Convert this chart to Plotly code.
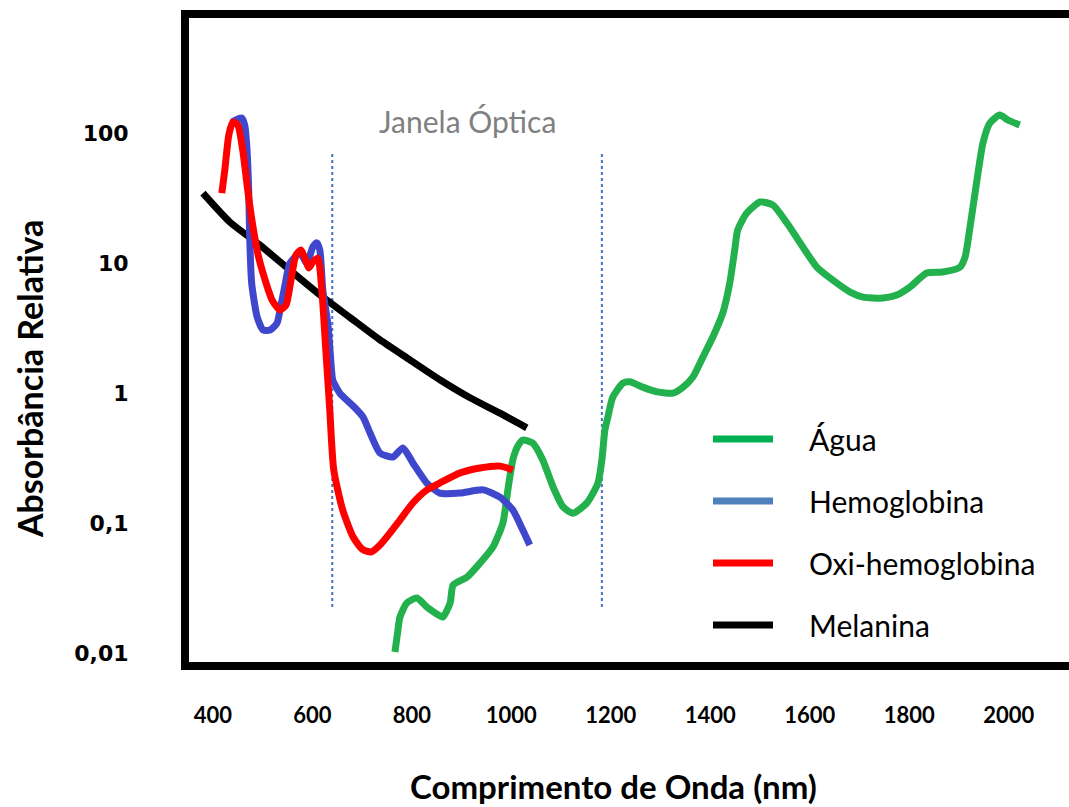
import plotly.graph_objects as go

# ---------------- data ----------------
series_names = ["Água", "Hemoglobina", "Oxi-hemoglobina", "Melanina"]

agua_nm = [766, 772, 776, 790, 810, 830, 850, 862, 877, 883, 911, 937, 963, 983, 993, 1003,
           1013, 1023, 1043, 1063, 1084, 1104, 1124, 1152, 1174, 1182, 1188, 1194, 1204, 1224,
           1238, 1264, 1293, 1325, 1345, 1365, 1385, 1405, 1425, 1439, 1449, 1455, 1473, 1500,
           1526, 1554, 1586, 1614, 1646, 1681, 1707, 1747, 1775, 1801, 1835, 1867, 1902, 1912,
           1922, 1936, 1948, 1962, 1982, 1998, 2022]
agua_abs = [0.0102, 0.0150, 0.0189, 0.0243, 0.0265, 0.0226, 0.0200, 0.0189, 0.0243, 0.0333,
            0.0384, 0.0492, 0.0654, 0.100, 0.180, 0.306, 0.391, 0.435, 0.412, 0.306, 0.189,
            0.133, 0.119, 0.143, 0.203, 0.306, 0.519, 0.653, 0.931, 1.19, 1.22, 1.11, 1.02,
            1.00, 1.11, 1.33, 1.89, 2.70, 4.12, 7.01, 12.6, 17.9, 24.2, 29.5, 27.9, 20.3, 13.3,
            9.31, 7.40, 5.98, 5.47, 5.38, 5.68, 6.53, 8.38, 8.53, 9.31, 11.1, 18.9, 43.5, 83.8,
            119.4, 137.5, 126.0, 115.2]

hemo_nm = [438, 458, 464, 468, 472, 474, 478, 489, 501, 515, 529, 535, 545, 555, 575, 589,
           601, 609, 615, 621, 631, 639, 641, 655, 669, 686, 702, 716, 736, 762, 782, 802,
           830, 856, 897, 943, 977, 1003, 1023, 1037]
hemo_abs = [121.5, 130.4, 115.2, 80.9, 36.5, 15.85, 7.01, 3.85, 3.05, 3.05, 3.45, 4.35, 6.78,
            10.0, 11.9, 10.0, 13.3, 14.3, 12.6, 6.2, 3.45, 1.43, 1.26, 1.00, 0.884, 0.767,
            0.653, 0.492, 0.345, 0.322, 0.378, 0.290, 0.203, 0.170, 0.170, 0.180, 0.158,
            0.126, 0.0883, 0.0678]

oxi_nm = [418, 424, 432, 440, 450, 460, 470, 480, 491, 505, 519, 535, 547, 557, 567, 577,
          585, 593, 601, 611, 619, 627, 635, 643, 661, 682, 700, 718, 736, 756, 776, 802,
          830, 856, 897, 937, 977, 1003]
oxi_abs = [34.5, 51.9, 96.6, 121.5, 115.2, 73.9, 36.5, 19.6, 11.5, 7.4, 5.19, 4.35, 4.75,
           7.4, 11.5, 12.6, 10.9, 9.16, 10.2, 10.9, 6.2, 2.14, 0.74, 0.256, 0.126, 0.078,
           0.063, 0.0598, 0.0678, 0.0838, 0.1055, 0.1426, 0.1795, 0.203, 0.243, 0.265,
           0.274, 0.256]

mel_nm = [380, 434, 495, 555, 615, 676, 736, 796, 857, 917, 977, 1031]
mel_abs = [34.5, 20.7, 13.7, 8.8, 5.7, 3.8, 2.56, 1.80, 1.26, 0.92, 0.70, 0.54]

window_nm = [640, 1182]          # limits of the optical window
window_abs = [0.0226, 71.5]      # vertical extent of the dotted guides
window_label = "Janela Óptica"

x_ticks = [400, 600, 800, 1000, 1200, 1400, 1600, 1800, 2000]
y_ticks = [0.01, 0.1, 1, 10, 100]
y_ticktext = ["0,01", "0,1", "1", "10", "100"]

curve_colors = ["#22B14C", "#3F48CC", "#FF0000", "#000000"]
legend_colors = ["#00B050", "#4F81BD", "#FF0000", "#000000"]

# ---------------- figure ----------------
fig = go.Figure()

for xv in window_nm:
    fig.add_trace(go.Scatter(x=[xv, xv], y=window_abs, mode="lines",
                             line=dict(color="#4472C4", width=2, dash="dot"),
                             showlegend=False, hoverinfo="skip"))

data = [(agua_nm, agua_abs), (hemo_nm, hemo_abs), (oxi_nm, oxi_abs), (mel_nm, mel_abs)]
order = [3, 0, 1, 2]  # drawing order: melanin first, red on top of blue
for i in order:
    xs, ys = data[i]
    fig.add_trace(go.Scatter(x=xs, y=ys, mode="lines", name=series_names[i],
                             line=dict(color=curve_colors[i], width=7, shape="spline",
                                       smoothing=0.6),
                             showlegend=False))

W, H = 1069, 807
L, R, T, B = 189, 0, 18, 145
pw, ph = W - L - R, H - T - B

def px(xp):
    return (xp - L) / pw

def py(yp):
    return (H - B - yp) / ph

shapes = []
annotations = []
leg_y0, leg_step = 439, 62
for i, name in enumerate(series_names):
    yy = py(leg_y0 + i * leg_step)
    shapes.append(dict(type="line", xref="paper", yref="paper", x0=px(713), x1=px(773),
                       y0=yy, y1=yy, line=dict(color=legend_colors[i], width=7)))
    annotations.append(dict(xref="paper", yref="paper", x=px(807), y=yy, text=name,
                            showarrow=False, xanchor="left", yanchor="middle",
                            font=dict(family="Lato", size=30, color="#000000")))

annotations.append(dict(x=911, y=2.092, xref="x", yref="y", text=window_label,
                        showarrow=False, xanchor="center", yanchor="middle",
                        font=dict(family="Lato", size=30, color="#808080")))
annotations.append(dict(xref="paper", yref="paper", x=px(613), y=py(786),
                        text="Comprimento de Onda (nm)", showarrow=False,
                        xanchor="center", yanchor="middle",
                        font=dict(family="Lato", size=33, color="#000000", weight="bold")))
annotations.append(dict(xref="paper", yref="paper", x=px(30), y=py(379),
                        text="Absorbância Relativa", showarrow=False, textangle=-90,
                        xanchor="center", yanchor="middle",
                        font=dict(family="Lato", size=34, color="#000000", weight="bold")))

fig.update_layout(
    width=W, height=H,
    margin=dict(l=L, r=R, t=T, b=B, pad=0),
    paper_bgcolor="white", plot_bgcolor="white",
    shapes=shapes, annotations=annotations,
    showlegend=False,
    xaxis=dict(range=[352, 2121], tickvals=x_ticks, showgrid=False, zeroline=False,
               showline=True, linewidth=8, linecolor="black", mirror=True,
               ticks="", ticklabelstandoff=27,
               tickfont=dict(family="Lato", size=22, color="#000000", weight="bold")),
    yaxis=dict(type="log", range=[-2.069, 2.885], tickvals=y_ticks, ticktext=y_ticktext,
               showgrid=False, zeroline=False, showline=True, linewidth=8,
               linecolor="black", mirror=False, ticks="", ticklabelstandoff=48,
               tickfont=dict(family="DejaVu Sans", size=22, color="#000000", weight="bold")),
)

fig.write_html("out.html")
